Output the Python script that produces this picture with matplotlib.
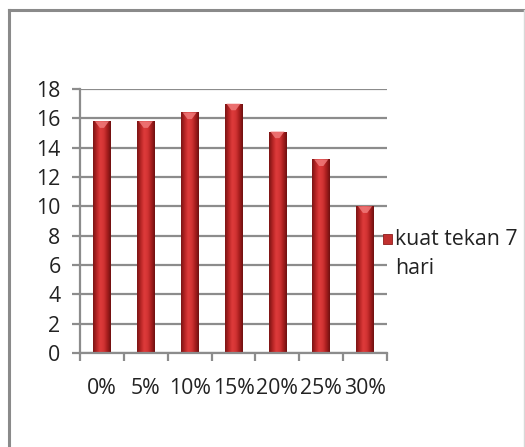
import numpy as np
import matplotlib
matplotlib.use("Agg")
import matplotlib.pyplot as plt
from matplotlib.patches import Rectangle, Polygon
from matplotlib.lines import Line2D
from matplotlib.colors import LinearSegmentedColormap

categories = ["0%", "5%", "10%", "15%", "20%", "25%", "30%"]
values = [15.8, 15.8, 16.4, 17.0, 15.1, 13.2, 10.0]
series_name = "kuat tekan 7\nhari"
y_ticks = [0, 2, 4, 6, 8, 10, 12, 14, 16, 18]

plt.rcParams["font.family"] = ["Open Sans", "DejaVu Sans"]
FS = 15.3
TXT = "#222222"

W, H = 525, 447
fig = plt.figure(figsize=(W / 100, H / 100), dpi=100)
fig.patch.set_facecolor("white")

# outer chart frame (left and top edges visible, faint right edge)
frame_col = "#8a8a8a"
fig.add_artist(Line2D([9 / W, 9 / W], [0, 1 - 9.5 / H], transform=fig.transFigure,
                      color=frame_col, lw=2.2))
fig.add_artist(Line2D([9 / W, 1], [1 - 9.5 / H, 1 - 9.5 / H], transform=fig.transFigure,
                      color=frame_col, lw=2.2))
fig.add_artist(Line2D([1 - 1.5 / W, 1 - 1.5 / W], [0, 1 - 9.5 / H], transform=fig.transFigure,
                      color="#d8d8d8", lw=1.0))

ax = fig.add_axes([80 / W, 94 / H, (387 - 80) / W, (353 - 89) / H])
ax.set_xlim(-0.5, len(categories) - 0.5)
ax.set_ylim(0, 18)

grid_col = "#8c8c8c"
ax.set_yticks(y_ticks)
ax.set_yticklabels([str(t) for t in y_ticks], fontsize=FS, color=TXT)
ax.yaxis.grid(True, color=grid_col, lw=1.6)
ax.set_axisbelow(True)

x = np.arange(len(categories))
ax.set_xticks(np.arange(-0.5, len(categories) + 0.5, 1.0))
ax.set_xticklabels([])
ax.set_xticks(x, minor=True)
ax.set_xticklabels(categories, minor=True, fontsize=FS, color=TXT)
ax.tick_params(axis="x", which="minor", length=0, pad=18)
ax.tick_params(axis="x", which="major", length=6, width=1.6, color=grid_col)
ax.tick_params(axis="y", length=6, width=1.6, color=grid_col, pad=8)

for s in ["top", "right"]:
    ax.spines[s].set_visible(False)
for s in ["left", "bottom"]:
    ax.spines[s].set_color(grid_col)
    ax.spines[s].set_linewidth(1.6)

# cylinder-like shading across each bar
cmap = LinearSegmentedColormap.from_list(
    "barshade", ["#7a1414", "#b52424", "#de3b3b", "#d33434", "#a81e1e", "#6e1010"])
grad = np.linspace(0, 1, 64).reshape(1, -1)

bw = 0.4
bars = ax.bar(x, values, width=bw, color="none", edgecolor="none", zorder=2)
for b, v in zip(bars, values):
    x0 = b.get_x()
    im = ax.imshow(grad, cmap=cmap, aspect="auto", extent=[x0, x0 + bw, 0, v],
                   interpolation="bicubic", zorder=2)
    im.set_clip_path(b)
    # lighter cap at top of each bar
    cap_h = 0.45
    cap = Polygon([[x0 + 0.04, v], [x0 + bw - 0.04, v],
                   [x0 + bw * 0.62, v - cap_h], [x0 + bw * 0.38, v - cap_h]],
                  closed=True, facecolor="#f07a7a", edgecolor="none", zorder=3, alpha=0.85)
    ax.add_patch(cap)

ax.set_xlim(-0.5, len(categories) - 0.5)
ax.set_ylim(0, 18)

# legend entry
fig.add_artist(Rectangle((383 / W, 1 - 244 / H), 9 / W, 10 / H, transform=fig.transFigure,
                         facecolor="#c0302f", edgecolor="#8e1c1c", lw=0.6))
fig.text(395 / W, 1 - 229 / H, series_name, fontsize=FS, color=TXT,
         va="top", ha="left", linespacing=1.5, transform=fig.transFigure)

fig.savefig("out.png", dpi=100)
